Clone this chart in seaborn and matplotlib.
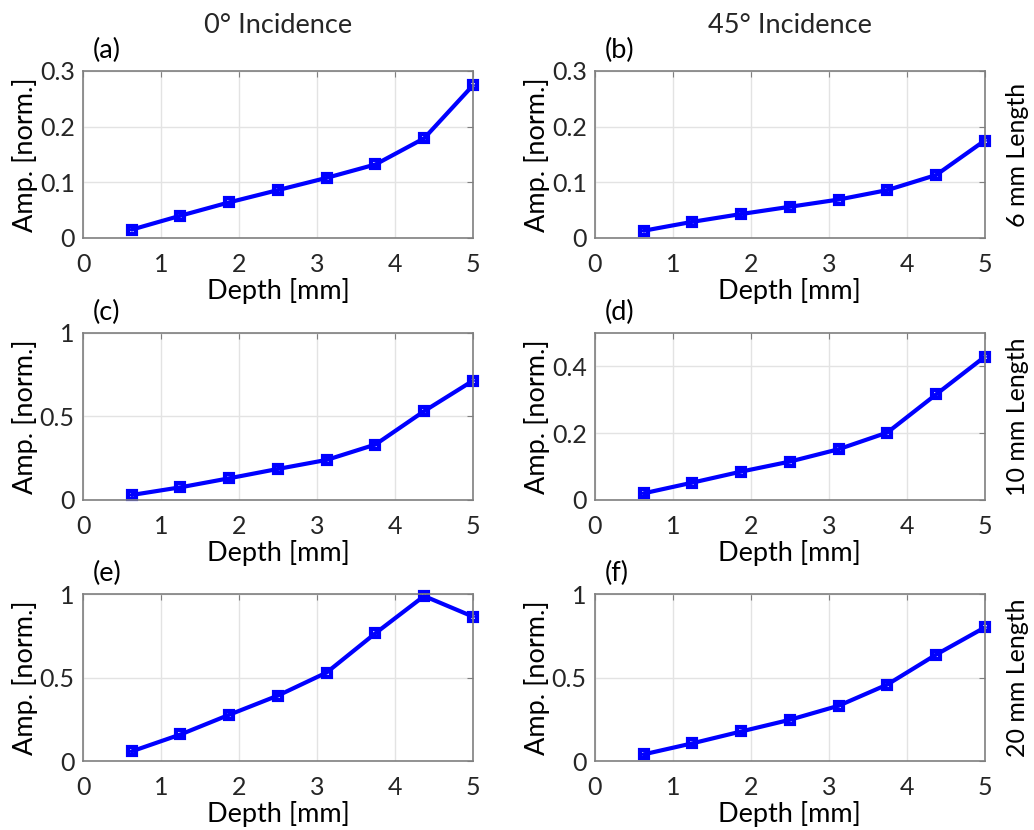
import matplotlib
matplotlib.use("Agg")
import matplotlib.pyplot as plt
import seaborn as sns
import pandas as pd

depth = [0.625, 1.25, 1.875, 2.5, 3.125, 3.75, 4.375, 5.0]

amp_a = [0.015, 0.040, 0.064, 0.086, 0.108, 0.132, 0.179, 0.274]
amp_b = [0.013, 0.029, 0.043, 0.056, 0.069, 0.086, 0.113, 0.175]
amp_c = [0.030, 0.076, 0.130, 0.186, 0.240, 0.332, 0.532, 0.714]
amp_d = [0.020, 0.052, 0.085, 0.115, 0.152, 0.202, 0.316, 0.429]
amp_e = [0.058, 0.159, 0.277, 0.392, 0.530, 0.765, 0.988, 0.865]
amp_f = [0.040, 0.106, 0.177, 0.247, 0.331, 0.458, 0.637, 0.800]

panel_labels = ["(a)", "(b)", "(c)", "(d)", "(e)", "(f)"]
col_titles = ["0° Incidence", "45° Incidence"]
row_titles = ["6 mm Length", "10 mm Length", "20 mm Length"]
x_ticks = [0, 1, 2, 3, 4, 5]
x_ticklabels = ["0", "1", "2", "3", "4", "5"]
y_ticks_small = [0, 0.1, 0.2, 0.3]
y_ticklabels_small = ["0", "0.1", "0.2", "0.3"]
y_ticks_mid = [0, 0.2, 0.4]
y_ticklabels_mid = ["0", "0.2", "0.4"]
y_ticks_big = [0, 0.5, 1]
y_ticklabels_big = ["0", "0.5", "1"]
x_label = "Depth [mm]"
y_label = "Amp. [norm.]"

sns.set_style("white")
plt.rcParams['font.family'] = ['Lato', 'DejaVu Sans']
plt.rcParams['xtick.direction'] = 'in'
plt.rcParams['ytick.direction'] = 'in'

fig = plt.figure(figsize=(10.34, 8.30), dpi=100)

lefts = [0.0803, 0.5754]
width = 0.377
height = 0.2012
bottoms = [0.7133, 0.3976, 0.0831]

series = [amp_a, amp_b, amp_c, amp_d, amp_e, amp_f]
ylims = [0.3, 0.3, 1.0, 0.5, 1.0, 1.0]
yticks = [y_ticks_small, y_ticks_small, y_ticks_big, y_ticks_mid, y_ticks_big, y_ticks_big]
yticklabels = [y_ticklabels_small, y_ticklabels_small, y_ticklabels_big,
               y_ticklabels_mid, y_ticklabels_big, y_ticklabels_big]

txt_color = "#262626"
fs_tick = 18
fs_lab = 19.5

for i in range(6):
    r, c = divmod(i, 2)
    ax = fig.add_axes([lefts[c], bottoms[r], width, height])
    df = pd.DataFrame({"x": depth, "y": series[i]})
    sns.lineplot(data=df, x="x", y="y", ax=ax, color=(0, 0, 1), linewidth=3.0,
                 marker="s", markersize=6, markerfacecolor="none",
                 markeredgecolor=(0, 0, 1), markeredgewidth=3.0, clip_on=False)
    ax.set_xlim(0, 5)
    ax.set_ylim(0, ylims[i])
    ax.set_xticks(x_ticks)
    ax.set_xticklabels(x_ticklabels)
    ax.set_yticks(yticks[i])
    ax.set_yticklabels(yticklabels[i])
    ax.grid(True, color="#e3e3e3", linewidth=1.0)
    ax.set_axisbelow(True)
    for sp in ax.spines.values():
        sp.set_visible(True)
        sp.set_color("#7f7f7f")
        sp.set_linewidth(1.2)
    ax.tick_params(axis="both", which="both", direction="in", length=4,
                   color="#7f7f7f", labelsize=fs_tick, labelcolor=txt_color,
                   top=True, right=True)
    ax.tick_params(axis="x", pad=11)
    ax.tick_params(axis="y", pad=6)
    ax.set_xlabel(x_label, fontsize=fs_lab, color="black", labelpad=1)
    ax.set_ylabel(y_label, fontsize=fs_lab, color="black", labelpad=1)
    ax.text(0.025, 1.05, panel_labels[i], transform=ax.transAxes,
            fontsize=fs_lab, color="black", ha="left", va="bottom")
    if r == 0:
        ax.text(0.5, 1.2, col_titles[c], transform=ax.transAxes,
                fontsize=fs_lab, color=txt_color, ha="center", va="bottom")
    if c == 1:
        ax.text(1.085, 0.5, row_titles[r], transform=ax.transAxes, rotation=90,
                fontsize=fs_tick, color="black", ha="center", va="center")

fig.savefig("out.png", dpi=100)
